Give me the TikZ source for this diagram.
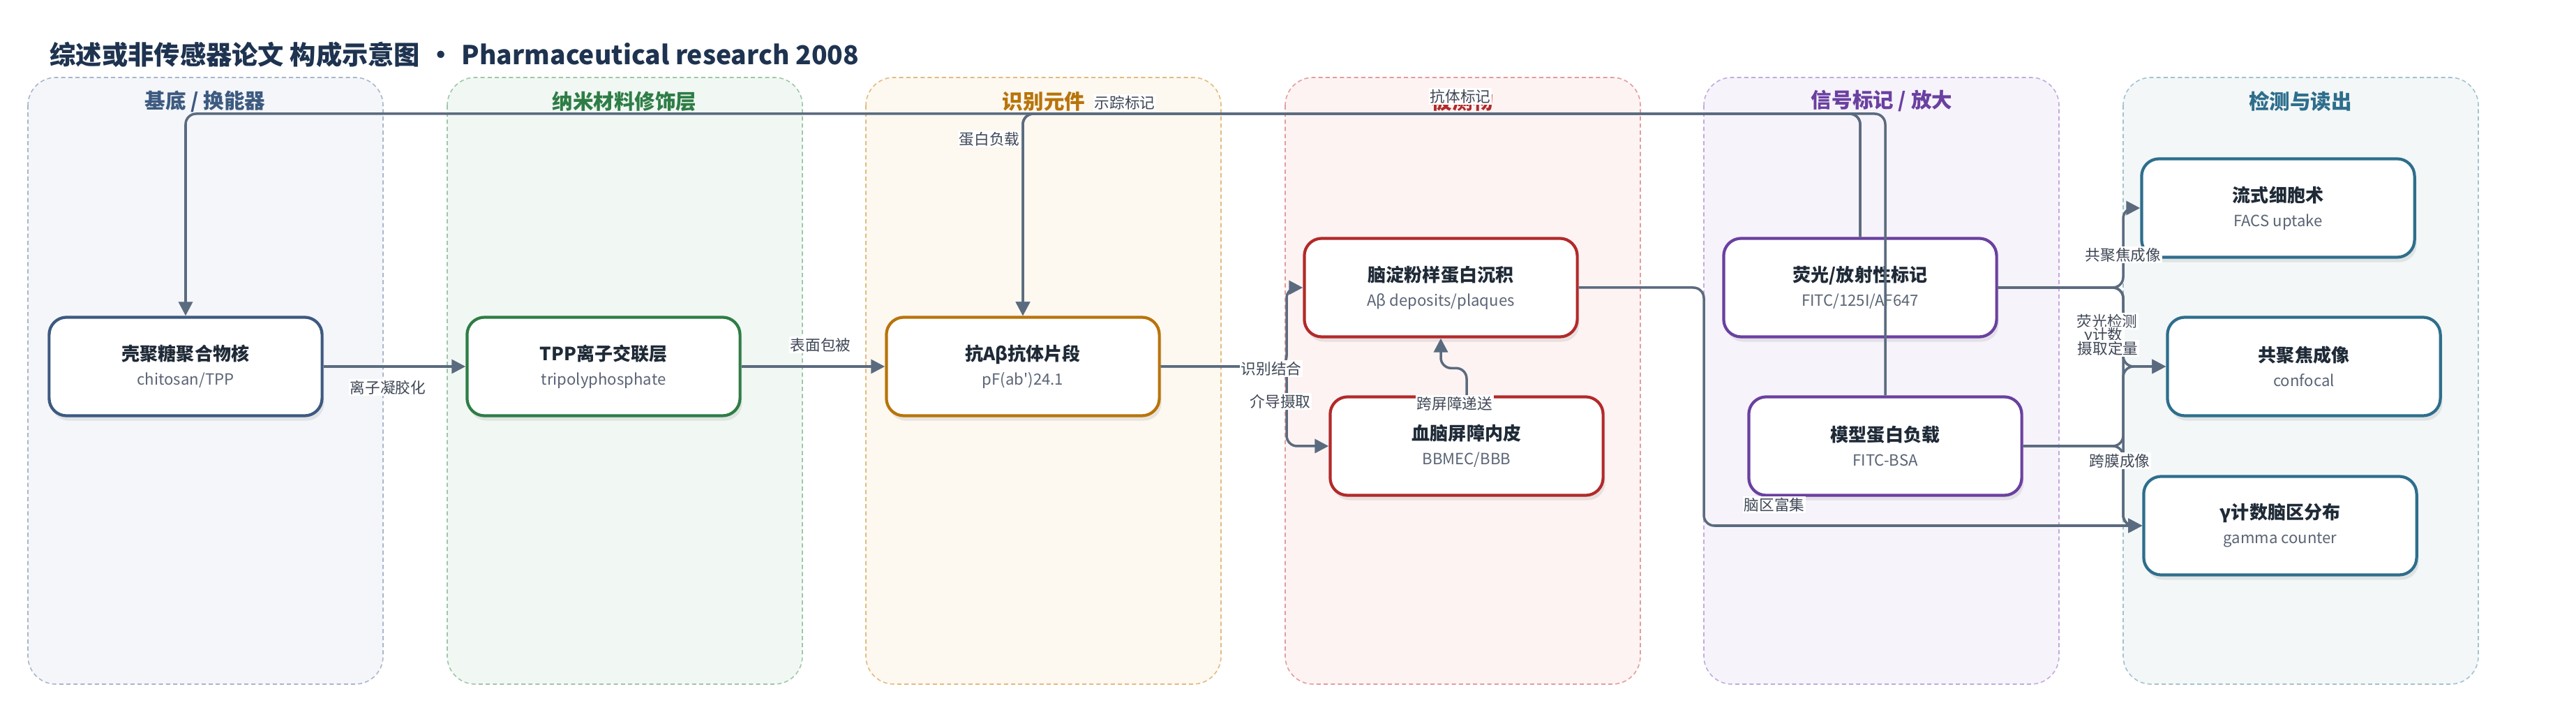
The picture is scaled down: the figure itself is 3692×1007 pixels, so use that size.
\documentclass[tikz,border=0pt]{standalone}
\usepackage{fontspec}
\setmainfont{Noto Sans CJK SC}
\usepackage{tikz}
\usetikzlibrary{arrows.meta, shadows}

\definecolor{inkTitle}{HTML}{1E3350}
\definecolor{inkNode}{HTML}{1F2A37}
\definecolor{inkSub}{HTML}{5B6475}
\definecolor{inkEdge}{HTML}{5B6B7F}
\definecolor{inkTag}{HTML}{3F4756}
\definecolor{subFill}{HTML}{F4F6FA}
\definecolor{subLine}{HTML}{A9B6C9}
\definecolor{subInk}{HTML}{3D5A80}
\definecolor{nanoFill}{HTML}{F1F8F3}
\definecolor{nanoLine}{HTML}{9CC8A9}
\definecolor{nanoInk}{HTML}{2E7D46}
\definecolor{recFill}{HTML}{FDF8F0}
\definecolor{recLine}{HTML}{E2BB7E}
\definecolor{recInk}{HTML}{B8740A}
\definecolor{anaFill}{HTML}{FDF3F2}
\definecolor{anaLine}{HTML}{E39C9C}
\definecolor{anaInk}{HTML}{B22A2A}
\definecolor{sigFill}{HTML}{F6F3FB}
\definecolor{sigLine}{HTML}{C2AADD}
\definecolor{sigInk}{HTML}{6A40A0}
\definecolor{detFill}{HTML}{F3F7F8}
\definecolor{detLine}{HTML}{A2C2CE}
\definecolor{detInk}{HTML}{2E6E8C}

\newcommand{\lanew}{509}
\newcommand{\laneh}{869}
\newcommand{\stage}[2]{{\bfseries\fontsize{7.4}{9.9}\selectfont\color{inkNode}#1}\\{\color{inkSub}#2}}

\tikzset{lanebox/.style={rounded corners=0.4cm, line width=0.45pt, dash pattern=on 1.7pt off 1.2pt}}
\tikzset{lanehead/.style={font=\bfseries\fontsize{8.4}{10}\selectfont}}
\tikzset{block/.style={rectangle, rounded corners=0.25cm, fill=white, line width=1.2pt, minimum width=3.91cm, minimum height=1.41cm, align=center, font=\fontsize{6.3}{9.9}\selectfont, drop shadow={opacity=0.16, shadow xshift=0.03cm, shadow yshift=-0.07cm}}}
\tikzset{flow/.style={->, >={Triangle[length=0.2cm, width=0.2cm]}, draw=inkEdge, line width=1pt, rounded corners=0.15cm}}
\tikzset{tag/.style={fill=white, inner sep=0.6pt, text=inkTag, font=\fontsize{6.15}{7}\selectfont}}

\begin{document}
\begin{tikzpicture}[x=0.01cm, y=-0.01cm]
  \useasboundingbox (0,0) rectangle (3692,1007);

  \node[anchor=west, inner sep=0pt, text=inkTitle, font=\bfseries\fontsize{10.6}{13}\selectfont] (title) at (71,78)
    {综述或非传感器论文 构成示意图\hspace{0.3em}•\hspace{0.3em}Pharmaceutical research 2008};

  % --- lane: substrate ---
  \begin{scope}
    \draw[lanebox, fill=subFill, draw=subLine] (40,111) rectangle ++(\lanew,\laneh);
    \node[lanehead, text=subInk] (headSub) at (294,145) {基底 / 换能器};
    \node[block, draw=subInk] (core) at (266,525) {\stage{壳聚糖聚合物核}{chitosan/TPP}};
  \end{scope}

  % --- lane: nano layer ---
  \begin{scope}
    \draw[lanebox, fill=nanoFill, draw=nanoLine] (641,111) rectangle ++(\lanew,\laneh);
    \node[lanehead, text=nanoInk] (headNano) at (895,145) {纳米材料修饰层};
    \node[block, draw=nanoInk] (tpp) at (865,525) {\stage{TPP离子交联层}{tripolyphosphate}};
  \end{scope}

  % --- lane: recognition ---
  \begin{scope}
    \draw[lanebox, fill=recFill, draw=recLine] (1241,111) rectangle ++(\lanew,\laneh);
    \node[lanehead, text=recInk] (headRec) at (1496,145) {识别元件};
    \node[block, draw=recInk] (fab) at (1466,525) {\stage{抗Aβ抗体片段}{pF(ab\textquotesingle)24.1}};
  \end{scope}

  % --- lane: analyte ---
  \begin{scope}
    \draw[lanebox, fill=anaFill, draw=anaLine] (1842,111) rectangle ++(\lanew,\laneh);
    \node[lanehead, text=anaInk] (headAna) at (2096,145) {被测物};
    \node[block, draw=anaInk] (plaque) at (2065,412) {\stage{脑淀粉样蛋白沉积}{Aβ deposits/plaques}};
    \node[block, draw=anaInk] (bbb) at (2102,639) {\stage{血脑屏障内皮}{BBMEC/BBB}};
  \end{scope}

  % --- lane: signal ---
  \begin{scope}
    \draw[lanebox, fill=sigFill, draw=sigLine] (2442,111) rectangle ++(\lanew,\laneh);
    \node[lanehead, text=sigInk] (headSig) at (2697,145) {信号标记 / 放大};
    \node[block, draw=sigInk] (tracer) at (2666,412) {\stage{荧光/放射性标记}{FITC/125I/AF647}};
    \node[block, draw=sigInk] (bsa) at (2702,639) {\stage{模型蛋白负载}{FITC-BSA}};
  \end{scope}

  % --- lane: readout ---
  \begin{scope}
    \draw[lanebox, fill=detFill, draw=detLine] (3043,111) rectangle ++(\lanew,\laneh);
    \node[lanehead, text=detInk] (headDet) at (3297,145) {检测与读出};
    \node[block, draw=detInk] (facs) at (3265,298) {\stage{流式细胞术}{FACS uptake}};
    \node[block, draw=detInk] (confocal) at (3302,525) {\stage{共聚焦成像}{confocal}};
    \node[block, draw=detInk] (gamma) at (3268,753) {\stage{γ计数脑区分布}{gamma counter}};
  \end{scope}

  % --- links ---
  \coordinate (rail) at (0,163);
  \coordinate (split) at (1844,525);
  \coordinate (drop) at (2442,753);
  \coordinate (hub) at (3043,525);

  \draw[flow] (core) -- (tpp);
  \draw[flow] (tpp) -- (fab);
  \draw[flow] (fab.east) -- (split) |- (plaque.west);
  \draw[flow] (fab.east) -- (split) |- (bbb.west);
  \draw[flow] (bbb.north) -- ++(0,-39) -| (plaque.south);
  \draw[flow] (plaque.east) -| (drop) -- (gamma.west);

  \draw[flow] (tracer.north) -- (tracer.north |- rail) -| (core.north);
  \draw[flow] (tracer.north) -- (tracer.north |- rail) -| (fab.north);
  \draw[flow] (bsa.north) -- (bsa.north |- rail) -| (fab.north);

  \draw[flow] (tracer.east) -- (tracer.east -| hub) |- (facs.west);
  \draw[flow] (tracer.east) -- (tracer.east -| hub) |- (confocal.west);
  \draw[flow] (tracer.east) -- (tracer.east -| hub) |- (gamma.west);
  \draw[flow] (bsa.east) -- (bsa.east -| hub) |- (confocal.west);
  \draw[flow] (bsa.east) -- (bsa.east -| hub) |- (gamma.west);

  % --- link labels ---
  \node[tag] (tGel) at (556,555) {离子凝胶化};
  \node[tag] (tCoat) at (1176,494) {表面包被};
  \node[tag] (tBind) at (1822,528) {识别结合};
  \node[tag] (tUptake) at (1835,575) {介导摄取};
  \node[tag] (tCross) at (2085,578) {跨屏障递送};
  \node[tag] (tLoad) at (1418,199) {蛋白负载};
  \node[tag] (tTrace) at (1612,147) {示踪标记};
  \node[tag] (tLabel) at (2093,138) {抗体标记};
  \node[tag] (tEnrich) at (2543,723) {脑区富集};
  \node[tag] (tConf) at (3043,365) {共聚焦成像};
  \node[tag] (tFluo) at (3020,460) {荧光检测};
  \node[tag] (tCount) at (3015,481) {γ计数};
  \node[tag] (tQuant) at (3021,499) {摄取定量};
  \node[tag] (tMemb) at (3038,660) {跨膜成像};
\end{tikzpicture}
\end{document}
